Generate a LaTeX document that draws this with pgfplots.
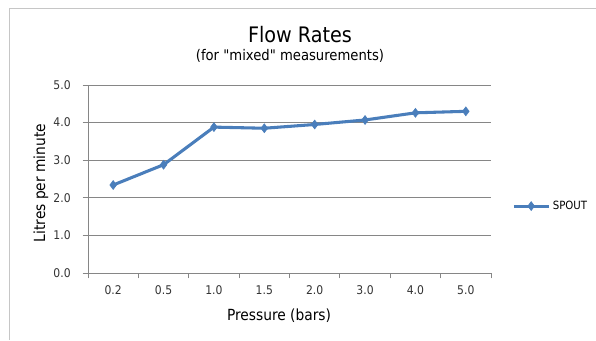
\documentclass[border=0pt]{standalone}
\usepackage{pgfplots}
\pgfplotsset{compat=1.18}
\usepackage{fontspec}
\setmainfont{DejaVu Sans Condensed}
\newfontfamily\plainfont{DejaVu Sans Condensed}
\definecolor{lineblue}{HTML}{4A7EBB}
\definecolor{gridgray}{HTML}{868686}
\begin{document}
\begin{tikzpicture}[x=0.75pt,y=0.75pt]
\useasboundingbox (0,0) rectangle (596,340);
\draw[gray!45, line width=0.75pt] (9,0) -- (9,331) -- (596,331);
\node[font=\fontsize{16}{18}\selectfont] at (300,305) {Flow Rates};
\node[font=\fontsize{11}{13}\selectfont] at (290,284) {(for {\plainfont"}mixed{\plainfont"} measurements)};
\begin{axis}[
  at={(88*0.75pt,67*0.75pt)}, anchor=south west,
  scale only axis, width=403*0.75pt, height=188*0.75pt,
  xmin=-0.5, xmax=7.5, ymin=0, ymax=5,
  xtick={0,...,7},
  xticklabels={0.2,0.5,1.0,1.5,2.0,3.0,4.0,5.0},
  minor xtick={-0.5,0.5,...,7.5},
  ytick={0,1,...,5},
  yticklabel style={xshift=-5.5pt, /pgf/number format/.cd, fixed, fixed zerofill, precision=1},
  /pgf/number format/assume math mode=true,
  axis x line*=bottom, axis y line*=left,
  axis line style={gridgray, line width=0.6pt},
  ymajorgrids, major grid style={gridgray, line width=0.6pt},
  tick style={gridgray, line width=0.6pt},
  major x tick style={draw=none},
  tick align=outside,
  major tick length=4pt, minor tick length=4pt,
  ticklabel style={font=\fontsize{9}{10}\selectfont, text=black!80},
  xticklabel style={yshift=-2pt},
  xlabel={Pressure (bars)}, ylabel={Litres per minute},
  label style={font=\fontsize{11.5}{13}\selectfont},
  xlabel style={at={(axis description cs:0.474,-0.229)}, anchor=center},
  ylabel style={at={(axis description cs:-0.117,0.479)}, anchor=center},
  legend style={at={(1.052,0.356)}, anchor=west, draw=none, fill=none,
    font=\fontsize{8.5}{10}\selectfont, inner sep=0pt,
    legend cell align=left},
  legend image code/.code={%
    \draw[mark repeat=2,mark phase=2] plot coordinates {(0cm,0cm) (0.46cm,0cm) (0.92cm,0cm)};},
  clip=false,
]
\addplot[lineblue, line width=2.3pt, mark=diamond*, mark size=3.3pt,
  mark options={fill=lineblue, line width=0.5pt}]
  coordinates {(0,2.34) (1,2.88) (2,3.88) (3,3.85) (4,3.95) (5,4.07) (6,4.26) (7,4.30)};
\addlegendentry{SPOUT}
\end{axis}
\end{tikzpicture}
\end{document}
